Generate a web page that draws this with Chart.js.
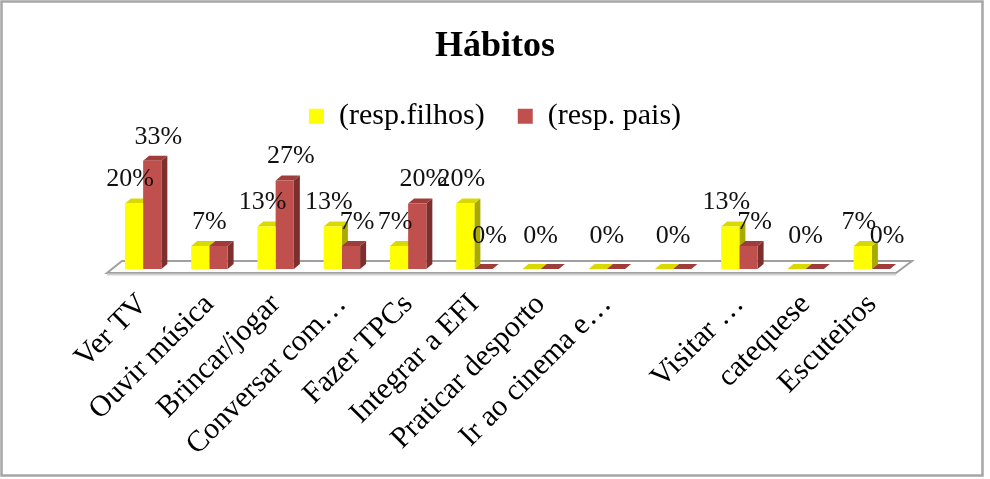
<!DOCTYPE html>
<html>
<head>
<meta charset="utf-8">
<script src="https://cdn.jsdelivr.net/npm/chart.js@4.4.1/dist/chart.umd.min.js"></script>
<style>
  html, body { margin: 0; padding: 0; background: #fff; }
  #wrap { width: 990px; height: 479px; }
</style>
</head>
<body>
<div id="wrap"><canvas id="chart"></canvas></div>
<script>
// Dados
const categories = ['Ver TV', 'Ouvir música', 'Brincar/jogar', 'Conversar com…', 'Fazer TPCs', 'Integrar a EFI',
    'Praticar desporto', 'Ir ao cinema e…', '', 'Visitar …', 'catequese', 'Escuteiros'];
const filhos = [20, 7, 13, 13, 7, 20, 0, 0, 0, 13, 0, 7];
const pais = [33, 7, 27, 7, 20, 0, 0, 0, 0, 7, 0, 0];
const seriesNames = ['(resp.filhos)', '(resp. pais)'];

const FONT = "'Liberation Serif', 'Times New Roman', serif";
const DX = 6, DY = 5;

// Moldura a volta do grafico
const frame = {
    id: 'frame',
    beforeDraw(chart) {
        const ctx = chart.ctx;
        ctx.save();
        ctx.fillStyle = '#fff';
        ctx.fillRect(0, 0, chart.width, chart.height);
        ctx.strokeStyle = '#a6a6a6';
        ctx.lineWidth = 2.5;
        ctx.strokeRect(1.5, 1.5, 981, 474);
        ctx.restore();
    }
};

// Chao e faces laterais/topo das barras (efeito 3D)
const bars3d = {
    id: 'bars3d',
    beforeDatasetsDraw(chart) {
        const ctx = chart.ctx;
        const a = chart.chartArea;
        const y0 = chart.scales.y.getPixelForValue(0);
        ctx.save();
        // chao
        ctx.beginPath();
        ctx.moveTo(a.left - 3, y0 + 4);
        ctx.lineTo(a.right - 9, y0 + 4);
        ctx.lineTo(a.right + 7, y0 - 8);
        ctx.lineTo(a.left + 12, y0 - 8);
        ctx.closePath();
        ctx.fillStyle = '#fff';
        ctx.fill();
        ctx.strokeStyle = '#a0a0a0';
        ctx.lineWidth = 2;
        ctx.stroke();
        ctx.beginPath();
        ctx.moveTo(a.left - 3, y0 + 5.5);
        ctx.lineTo(a.right - 9, y0 + 5.5);
        ctx.strokeStyle = '#d0d0d0';
        ctx.stroke();

        chart.data.datasets.forEach((ds, i) => {
            const meta = chart.getDatasetMeta(i);
            meta.data.forEach(bar => {
                const half = bar.width / 2;
                const l = bar.x - half, r = bar.x + half;
                const top = bar.y, base = bar.base;
                ctx.fillStyle = ds.sideColor;
                ctx.beginPath();
                ctx.moveTo(r, top);
                ctx.lineTo(r + DX, top - DY);
                ctx.lineTo(r + DX, base - DY);
                ctx.lineTo(r, base);
                ctx.closePath();
                ctx.fill();
                ctx.fillStyle = ds.topColor;
                ctx.beginPath();
                ctx.moveTo(l, top);
                ctx.lineTo(l + DX, top - DY);
                ctx.lineTo(r + DX, top - DY);
                ctx.lineTo(r, top);
                ctx.closePath();
                ctx.fill();
            });
        });
        ctx.restore();
    }
};

// Rotulos de valor por cima das barras
const valueLabels = {
    id: 'valueLabels',
    afterDatasetsDraw(chart) {
        const ctx = chart.ctx;
        const xScale = chart.scales.x;
        ctx.save();
        ctx.font = '26px ' + FONT;
        ctx.fillStyle = '#111';
        ctx.textAlign = 'center';
        ctx.textBaseline = 'bottom';
        chart.data.datasets.forEach((ds, i) => {
            const meta = chart.getDatasetMeta(i);
            meta.data.forEach((bar, j) => {
                const same = pais[j] === filhos[j];
                // quando os dois valores sao iguais so aparece um rotulo, ao centro
                if (i === 1 && same) return;
                let x = bar.x + (i === 0 ? -4 : 6);
                if (same) x = xScale.getPixelForValue(j);
                const lift = ds.data[j] === 0 ? 20 : 11;
                ctx.fillText(ds.data[j] + '%', x, bar.y - lift);
            });
        });
        ctx.restore();
    }
};

const chartInstance = new Chart(document.getElementById('chart'), {
    type: 'bar',
    data: {
        labels: categories,
        datasets: [{
            label: seriesNames[0],
            data: filhos,
            backgroundColor: '#ffff00',
            topColor: '#d9d900',
            sideColor: '#a9a900',
            borderWidth: 0
        }, {
            label: seriesNames[1],
            data: pais,
            backgroundColor: '#c0504d',
            topColor: '#9e3d3a',
            sideColor: '#7d2f2d',
            borderWidth: 0
        }]
    },
    options: {
        responsive: true,
        maintainAspectRatio: false,
        animation: false,
        layout: { padding: { left: 85, right: 85, top: 0, bottom: 0 } },
        datasets: { bar: { categoryPercentage: 0.55, barPercentage: 1.0 } },
        plugins: {
            title: {
                display: true,
                text: 'Hábitos',
                color: '#000',
                font: { family: FONT, size: 36, weight: 'bold' },
                padding: { top: 25, bottom: 0 }
            },
            legend: {
                position: 'top',
                labels: {
                    color: '#000',
                    font: { family: FONT, size: 30 },
                    boxWidth: 15,
                    boxHeight: 15,
                    padding: 33
                }
            },
            tooltip: { enabled: false }
        },
        scales: {
            x: {
                grid: { display: false },
                border: { display: false },
                ticks: {
                    color: '#000',
                    font: { family: FONT, size: 30 },
                    minRotation: 45,
                    maxRotation: 45,
                    autoSkip: false,
                    padding: 10
                },
                afterFit(scale) {
                    scale.height = 210;
                    scale.paddingLeft = 110;
                }
            },
            y: {
                display: false,
                min: 0,
                max: 39
            }
        }
    },
    plugins: [frame, bars3d, valueLabels]
});
</script>
</body>
</html>
